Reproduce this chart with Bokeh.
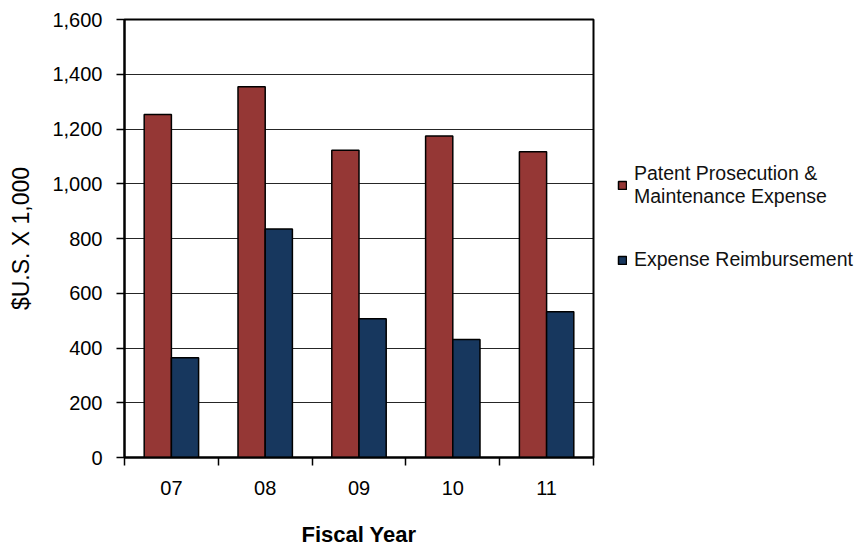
import numpy as np
from bokeh.plotting import figure
from bokeh.models import (ColumnDataSource, FixedTicker, NumeralTickFormatter,
                          Range1d, Legend, LegendItem)
from bokeh.embed import file_html
from bokeh.resources import INLINE

# ---- data ----
years = ["07", "08", "09", "10", "11"]
patent_expense = [1253, 1354, 1122, 1174, 1117]
reimbursement = [364, 835, 507, 431, 532]
series_names = ["Patent Prosecution &\nMaintenance Expense", "Expense Reimbursement"]
y_ticks = [0, 200, 400, 600, 800, 1000, 1200, 1400, 1600]

RED = "#953735"
BLUE = "#17375E"
FONT = "Liberation Sans"

idx = np.arange(len(years))
src = ColumnDataSource(dict(
    x_red=idx + 0.355,
    x_blue=idx + 0.645,
    red=patent_expense,
    blue=reimbursement,
))

p = figure(frame_width=469, frame_height=438, output_backend="svg",
           toolbar_location=None, x_range=Range1d(0, len(years)),
           y_range=Range1d(y_ticks[0], y_ticks[-1]),
           min_border_left=124, min_border_top=19, min_border_right=265,
           min_border_bottom=70)
p.background_fill_color = "white"
p.border_fill_color = "white"
p.outline_line_color = "black"
p.outline_line_width = 2

r1 = p.vbar(x="x_red", top="red", width=0.29, source=src, fill_color=RED,
            line_color="black", line_width=1.5)
r2 = p.vbar(x="x_blue", top="blue", width=0.29, source=src, fill_color=BLUE,
            line_color="black", line_width=1.5)

# grid
p.xgrid.visible = False
p.ygrid.grid_line_color = "black"
p.ygrid.grid_line_width = 1
p.ygrid.grid_line_alpha = 0.85

# y axis
p.yaxis.ticker = FixedTicker(ticks=y_ticks)
p.yaxis.formatter = NumeralTickFormatter(format="0,0")
p.yaxis.axis_line_width = 2
p.yaxis.major_tick_out = 8
p.yaxis.major_tick_in = 0
p.yaxis.major_tick_line_width = 1.5
p.yaxis.minor_tick_line_color = None
p.yaxis.major_label_standoff = 14
p.yaxis.major_label_text_font = FONT
p.yaxis.major_label_text_font_size = "20px"
p.yaxis.major_label_text_color = "black"
p.yaxis.axis_label = "$U.S. X 1,000"
p.yaxis.axis_label_text_font = FONT
p.yaxis.axis_label_text_font_size = "23px"
p.yaxis.axis_label_text_font_style = "normal"
p.yaxis.axis_label_text_color = "black"
p.yaxis.axis_label_standoff = 15

# x axis
centers = list(idx + 0.5)
p.xaxis.ticker = FixedTicker(ticks=centers, minor_ticks=list(range(len(years) + 1)))
p.xaxis.major_label_overrides = {c: y for c, y in zip(centers, years)}
p.xaxis.axis_line_width = 2
p.xaxis.major_tick_line_color = None
p.xaxis.major_tick_out = 0
p.xaxis.major_tick_in = 0
p.xaxis.minor_tick_out = 8
p.xaxis.minor_tick_in = 0
p.xaxis.minor_tick_line_width = 1.5
p.xaxis.minor_tick_line_color = "black"
p.xaxis.major_label_standoff = 15
p.xaxis.major_label_text_font = FONT
p.xaxis.major_label_text_font_size = "20px"
p.xaxis.major_label_text_color = "black"
p.xaxis.axis_label = "Fiscal Year"
p.xaxis.axis_label_text_font = FONT
p.xaxis.axis_label_text_font_size = "22px"
p.xaxis.axis_label_text_font_style = "bold"
p.xaxis.axis_label_text_color = "black"
p.xaxis.axis_label_standoff = 24

legend = Legend(items=[LegendItem(label=series_names[0], renderers=[r1]),
                       LegendItem(label=series_names[1], renderers=[r2])],
                location=(24, 186))
legend.background_fill_alpha = 0
legend.border_line_color = None
legend.padding = 0
legend.margin = 0
legend.spacing = 40
legend.glyph_width = 10
legend.glyph_height = 10
legend.label_standoff = 7
legend.label_text_font = FONT
legend.label_text_font_size = "19.5px"
legend.label_text_line_height = 1.3
legend.label_text_color = "#111111"
p.add_layout(legend, "right")

open("out.html", "w").write(file_html(p, INLINE))
